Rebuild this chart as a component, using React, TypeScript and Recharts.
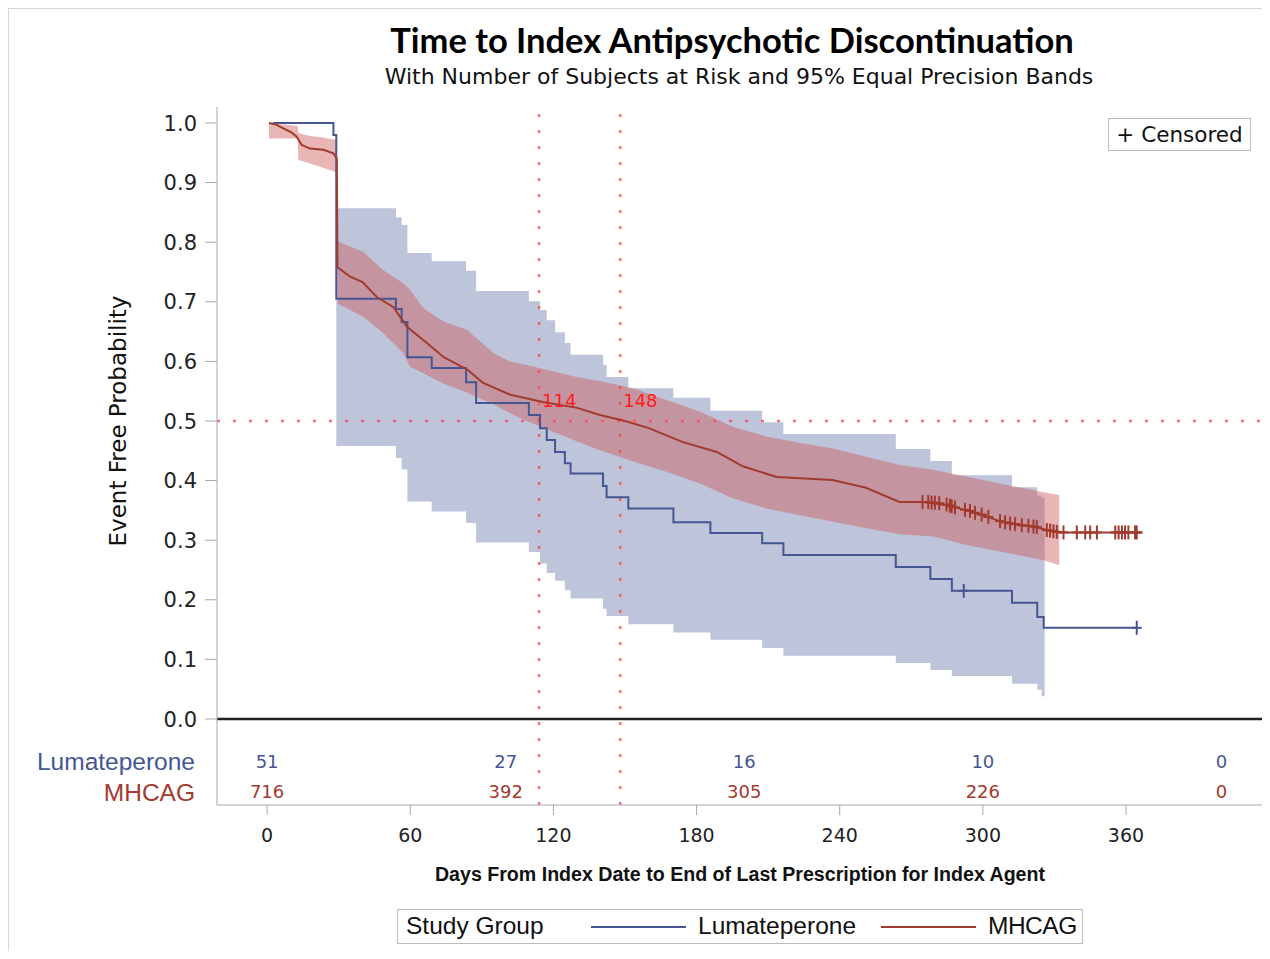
import React from "react";
import {
  ComposedChart,
  Line,
  Area,
  XAxis,
  YAxis,
  ReferenceLine,
  ReferenceDot
} from "recharts";

const FONT = '"Liberation Sans", Arial, sans-serif';
const WIDE = '"DejaVu Sans", sans-serif';
const BLUE = "#445694";
const RED = "#a23a2e";
const GRID = "#a8a8a8";

// Lumateperone KM curve (days, survival)
const lumaDays = [2.5, 27.8, 29.0, 54.0, 56.4, 58.8, 69.0, 83.4, 87.6, 109.7, 114.4, 117.2, 120.7, 124.8, 127.2, 140.8, 142.3, 151.4, 170.3, 185.8, 207.5, 216.4, 263.5, 278.0, 287.0, 312.2, 322.8, 325.5, 364.5];
const lumaSurv = [1.0, 0.98, 0.705, 0.688, 0.666, 0.607, 0.589, 0.565, 0.53, 0.51, 0.488, 0.468, 0.448, 0.429, 0.412, 0.391, 0.372, 0.353, 0.33, 0.312, 0.295, 0.275, 0.255, 0.235, 0.215, 0.195, 0.171, 0.153, 0.153];

// Lumateperone equal precision band
const lumaBandDays = [29.0, 54.0, 56.4, 58.8, 69.0, 83.4, 87.6, 109.7, 114.4, 117.2, 120.7, 124.8, 127.2, 140.8, 142.3, 151.4, 170.3, 185.8, 207.5, 216.4, 263.5, 278.0, 287.0, 312.2, 322.8, 324.6, 325.9];
const lumaBandLow = [0.458, 0.438, 0.419, 0.365, 0.348, 0.329, 0.296, 0.28, 0.261, 0.245, 0.232, 0.216, 0.202, 0.185, 0.173, 0.159, 0.145, 0.133, 0.119, 0.106, 0.094, 0.082, 0.072, 0.059, 0.049, 0.038, 0.038];
const lumaBandHigh = [0.857, 0.842, 0.829, 0.782, 0.768, 0.752, 0.718, 0.701, 0.686, 0.669, 0.649, 0.631, 0.611, 0.594, 0.574, 0.555, 0.539, 0.517, 0.498, 0.478, 0.453, 0.433, 0.409, 0.389, 0.375, 0.372, 0.372];

// MHCAG KM curve
const mhcagDays = [0.8, 3.4, 6.8, 10.3, 12.4, 14.5, 18, 23.6, 27.8, 29.2, 29.5, 34.8, 40, 46, 53, 58.6, 67, 74, 84, 90.5, 102, 115.6, 130, 139.5, 150, 160, 174, 188.5, 199.4, 213.6, 237, 251, 265, 275, 286, 293, 300, 307, 314, 321, 327, 332, 367];
const mhcagSurv = [1.0, 0.998, 0.991, 0.984, 0.977, 0.963, 0.957, 0.955, 0.949, 0.94, 0.758, 0.742, 0.733, 0.708, 0.691, 0.658, 0.631, 0.607, 0.586, 0.564, 0.544, 0.532, 0.522, 0.51, 0.5, 0.488, 0.465, 0.448, 0.424, 0.406, 0.401, 0.388, 0.364, 0.364, 0.358, 0.35, 0.342, 0.332, 0.327, 0.323, 0.317, 0.313, 0.313];

// MHCAG equal precision band
const mhcagBandDays = [0.8, 12.8, 13.1, 18, 24, 28.5, 29.2, 29.6, 40.3, 48.7, 57.1, 59.9, 65.5, 73.9, 83.7, 94.8, 101.8, 108.8, 129.7, 139.5, 153.5, 167.4, 181.4, 195.4, 209.3, 223.3, 237.2, 251.2, 265.2, 279.1, 293.1, 307.1, 321, 326, 332];
const mhcagBandLow = [0.974, 0.974, 0.938, 0.932, 0.924, 0.918, 0.904, 0.697, 0.675, 0.647, 0.614, 0.591, 0.58, 0.563, 0.548, 0.528, 0.513, 0.5, 0.466, 0.451, 0.432, 0.415, 0.395, 0.37, 0.353, 0.342, 0.331, 0.32, 0.31, 0.306, 0.292, 0.281, 0.27, 0.266, 0.258];
const mhcagBandHigh = [1.0, 0.995, 0.983, 0.978, 0.975, 0.972, 0.97, 0.801, 0.784, 0.753, 0.731, 0.72, 0.689, 0.667, 0.653, 0.614, 0.6, 0.594, 0.574, 0.567, 0.555, 0.535, 0.516, 0.49, 0.474, 0.463, 0.454, 0.44, 0.426, 0.418, 0.407, 0.395, 0.384, 0.38, 0.376];

// censored observations
const lumaCensDays = [292, 364.5];
const lumaCensSurv = [0.215, 0.153];
const mhcagCensDays = [274.7, 277.1, 278.5, 279.9, 281.7, 284.8, 286.2, 286.9, 288.3, 292.5, 294.6, 296.7, 299.5, 302.3, 307.2, 309.3, 311.4, 313.5, 316.3, 319.1, 321.2, 322.6, 326.8, 328.2, 329.6, 331.0, 333.8, 339.4, 342.9, 345.0, 347.8, 355.5, 356.9, 358.3, 359.6, 361.0, 363.8, 364.5];
const mhcagCensSurv = [0.364, 0.364, 0.363, 0.363, 0.362, 0.36, 0.358, 0.357, 0.355, 0.351, 0.349, 0.346, 0.343, 0.339, 0.332, 0.33, 0.328, 0.327, 0.325, 0.324, 0.323, 0.322, 0.317, 0.316, 0.315, 0.314, 0.313, 0.313, 0.313, 0.313, 0.313, 0.313, 0.313, 0.313, 0.313, 0.313, 0.313, 0.313];

// subjects at risk
const riskDays = [0, 100, 200, 300, 400];
const lumaAtRisk = [51, 27, 16, 10, 0];
const mhcagAtRisk = [716, 392, 305, 226, 0];

const medians = [114, 148];
const xTicks = [0, 60, 120, 180, 240, 300, 360];
const yTicks = [0, 0.1, 0.2, 0.3, 0.4, 0.5, 0.6, 0.7, 0.8, 0.9, 1.0];

// rows of the at-risk table, placed below 0 on the y scale
const LUMA_ROW = -0.072;
const MHCAG_ROW = -0.1225;
const Y_TICK_SIZE = 12;
const Y_TICK_MARGIN = 8;

const curve = (days: number[], vals: number[]) => days.map((t, i) => ({ t, s: vals[i] }));
const band = (days: number[], lo: number[], hi: number[]) => days.map((t, i) => ({ t, lo: lo[i], hi: hi[i] }));
const risk = (vals: number[], row: number) => riskDays.map((t, i) => ({ t, s: row, n: vals[i] }));

const lumaCurve = curve(lumaDays, lumaSurv);
const mhcagCurve = curve(mhcagDays, mhcagSurv);
const lumaBand = band(lumaBandDays, lumaBandLow, lumaBandHigh);
const mhcagBand = band(mhcagBandDays, mhcagBandLow, mhcagBandHigh);
const lumaCens = curve(lumaCensDays, lumaCensSurv);
const mhcagCens = curve(mhcagCensDays, mhcagCensSurv);
const lumaRisk = risk(lumaAtRisk, LUMA_ROW);
const mhcagRisk = risk(mhcagAtRisk, MHCAG_ROW);

const YTick = (props: any) => {
  const { x, y, payload } = props;
  const v = payload.value;
  const axisX = x + Y_TICK_SIZE + Y_TICK_MARGIN;
  if (v === LUMA_ROW || v === MHCAG_ROW) {
    return (
      <text x={axisX - 22} y={y} dy="0.35em" textAnchor="end" fontFamily={FONT} fontSize={24.5}
        fill={v === LUMA_ROW ? BLUE : RED}>
        {v === LUMA_ROW ? "Lumateperone" : "MHCAG"}
      </text>
    );
  }
  return (
    <g>
      <line x1={axisX - Y_TICK_SIZE} x2={axisX} y1={y} y2={y} stroke={GRID} />
      <text x={x} y={y} dy="0.36em" textAnchor="end" fontFamily={WIDE} fontSize={21} fill="#222">
        {v.toFixed(1)}
      </text>
    </g>
  );
};

const plus = (color: string) => (props: any) => {
  const { cx, cy, index } = props;
  return (
    <g key={index}>
      <line x1={cx} x2={cx} y1={cy - 7} y2={cy + 7} stroke={color} strokeWidth={2} />
      <line x1={cx - 5} x2={cx + 5} y1={cy} y2={cy} stroke={color} strokeWidth={2} />
    </g>
  );
};

const riskText = (color: string) => (props: any) => {
  const { cx, cy, payload, index } = props;
  return (
    <text key={index} x={cx} y={cy} dy="0.36em" textAnchor="middle" fontFamily={WIDE} fontSize={18} fill={color}>
      {payload.n}
    </text>
  );
};

const MedianLabel = (props: any) => {
  const { viewBox, text } = props;
  return (
    <text x={viewBox.x + 4} y={viewBox.y - 13} fontFamily={WIDE} fontSize={18} fill="#ff1a1a">
      {text}
    </text>
  );
};

const abs = (left: number, top: number, extra: React.CSSProperties = {}): React.CSSProperties => ({
  position: "absolute",
  left: left - 8,
  top: top - 8,
  fontFamily: WIDE,
  color: "#111",
  whiteSpace: "nowrap",
  ...extra
});

export default function App() {
  return (
    <div style={{ position: "relative", width: 1262, height: 943 }}>
      <div style={{ position: "absolute", left: -1, top: -1, width: 1270, height: 946, borderLeft: "2px solid #d6d6d6", borderTop: "2px solid #d6d6d6", borderBottom: "2px solid #d6d6d6", boxSizing: "border-box" }} />

      <ComposedChart width={1262} height={943} margin={{ top: 99, right: 8, bottom: 0, left: 0 }}>
        <XAxis type="number" dataKey="t" domain={[-21, 417]} allowDataOverflow ticks={xTicks}
          height={146} stroke={GRID} tickSize={10} tickMargin={14}
          tick={{ fill: "#222", fontSize: 19, fontFamily: WIDE }} />
        <XAxis xAxisId="top" orientation="top" type="number" domain={[-21, 417]} allowDataOverflow
          height={0} stroke={GRID} tick={false} tickLine={false} />
        <YAxis type="number" domain={[-0.1443, 1.0268]} allowDataOverflow
          ticks={[MHCAG_ROW, LUMA_ROW, ...yTicks]} interval={0} width={209} stroke={GRID}
          tickLine={false} tickSize={Y_TICK_SIZE} tickMargin={Y_TICK_MARGIN} tick={<YTick />} />
        <YAxis yAxisId="right" orientation="right" width={0} stroke={GRID} tick={false} tickLine={false} />

        <Area data={lumaBand} dataKey={(d: any) => [d.lo, d.hi]} type="stepAfter" fill={BLUE}
          fillOpacity={0.35} stroke="none" isAnimationActive={false} />
        <Area data={mhcagBand} dataKey={(d: any) => [d.lo, d.hi]} type="linear" fill="#cf5c5c"
          fillOpacity={0.45} stroke="none" isAnimationActive={false} />

        <ReferenceLine y={0} stroke="#222" strokeWidth={2.5} />
        <ReferenceLine y={0.5} stroke="#ff4a4a" strokeWidth={2.5} strokeDasharray="3 13" strokeOpacity={0.8} />
        {medians.map((m) => (
          <ReferenceLine key={m} x={m} stroke="#ff4a4a" strokeWidth={2.5} strokeDasharray="3 13" strokeOpacity={0.8} />
        ))}

        <Line data={lumaCurve} dataKey="s" type="stepAfter" stroke={BLUE} strokeWidth={2} dot={false}
          activeDot={false} isAnimationActive={false} />
        <Line data={mhcagCurve} dataKey="s" type="linear" stroke={RED} strokeWidth={2} dot={false}
          activeDot={false} isAnimationActive={false} />

        <Line data={lumaCens} dataKey="s" stroke="none" dot={plus(BLUE)} activeDot={false} isAnimationActive={false} />
        <Line data={mhcagCens} dataKey="s" stroke="none" dot={plus(RED)} activeDot={false} isAnimationActive={false} />

        <Line data={lumaRisk} dataKey="s" stroke="none" dot={riskText(BLUE)} activeDot={false} isAnimationActive={false} />
        <Line data={mhcagRisk} dataKey="s" stroke="none" dot={riskText(RED)} activeDot={false} isAnimationActive={false} />

        {medians.map((m) => (
          <ReferenceDot key={"d" + m} x={m} y={0.5} r={1} fill="none" stroke="none"
            label={<MedianLabel text={String(m)} />} />
        ))}
      </ComposedChart>

      <div style={abs(332, 21, { width: 800, textAlign: "center", fontFamily: "Lato, sans-serif", fontWeight: 700, fontSize: 34.5, lineHeight: "38px", color: "#000" })}>
        Time to Index Antipsychotic Discontinuation
      </div>
      <div style={abs(289, 64, { width: 900, textAlign: "center", fontSize: 22, lineHeight: "26px" })}>
        With Number of Subjects at Risk and 95% Equal Precision Bands
      </div>
      <div style={abs(-82, 408, { width: 400, textAlign: "center", fontSize: 23, lineHeight: "26px", transform: "rotate(-90deg)" })}>
        Event Free Probability
      </div>
      <div style={abs(290, 862, { width: 900, textAlign: "center", fontSize: 19.6, fontWeight: 700, lineHeight: "24px", fontFamily: FONT })}>
        Days From Index Date to End of Last Prescription for Index Agent
      </div>

      <div style={abs(1108, 118, { width: 143, height: 33, border: "1px solid #bdbdbd", boxSizing: "border-box", fontSize: 21.5, lineHeight: "31px", textAlign: "center", background: "#fff" })}>
        + Censored
      </div>

      <div style={abs(397, 909, { width: 686, height: 35, border: "1px solid #bdbdbd", boxSizing: "border-box", fontSize: 24.5, fontFamily: FONT })}>
        <span style={{ position: "absolute", left: 8, top: 2 }}>Study Group</span>
        <span style={{ position: "absolute", left: 193, top: 16, width: 95, height: 2, background: BLUE }} />
        <span style={{ position: "absolute", left: 300, top: 2 }}>Lumateperone</span>
        <span style={{ position: "absolute", left: 483, top: 16, width: 95, height: 2, background: RED }} />
        <span style={{ position: "absolute", left: 590, top: 2, letterSpacing: -0.5 }}>MHCAG</span>
      </div>
    </div>
  );
}
